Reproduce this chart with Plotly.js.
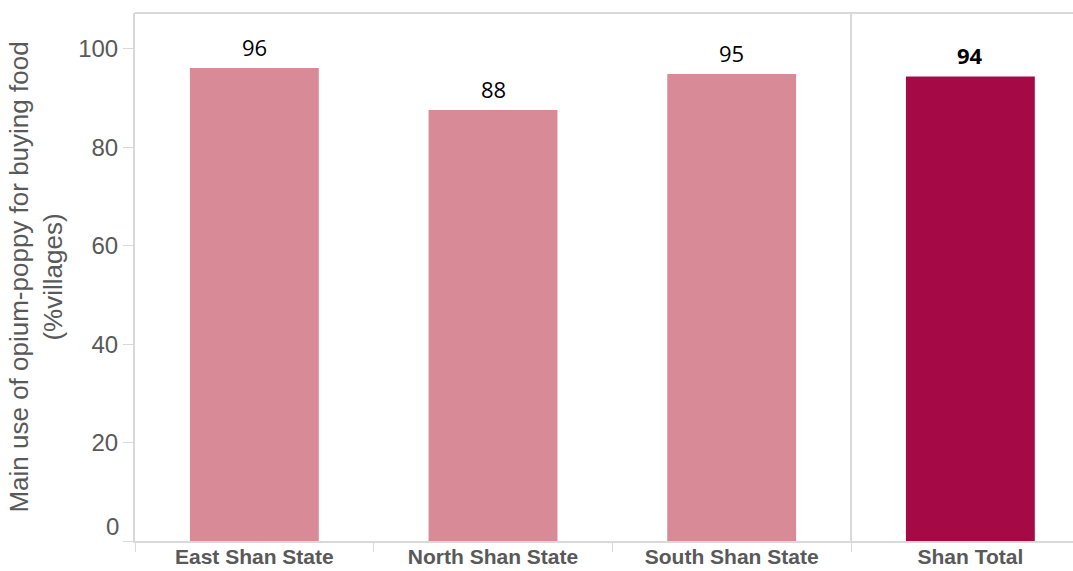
<!DOCTYPE html>
<html>
<head>
<meta charset="utf-8">
<script src="https://cdn.plot.ly/plotly-3.0.1.min.js"></script>
<style>html,body{margin:0;padding:0;background:#fff;}#chart{width:1073px;height:571px;}</style>
</head>
<body>
<div id="chart"></div>
<script>
const categories = ["East Shan State", "North Shan State", "South Shan State", "Shan Total"];
const values = [96.1, 87.6, 94.9, 94.4];
const valueLabels = ["96", "88", "95", "<b>94</b>"];
const barColors = ["#D88A96", "#D88A96", "#D88A96", "#A50A47"];
const yTickValues = [0, 20, 40, 60, 80, 100];
const yTickLabels = ["", "20", "40", "60", "80", "100"];
const zeroLabel = "0";
const yTitle = "Main use of opium-poppy for buying food<br>(%villages)";

const trace = {
  type: "bar",
  x: categories,
  y: values,
  width: 0.54,
  marker: {color: barColors},
  cliponaxis: false,
  hoverinfo: "none"
};

const labelAnnotations = categories.map((c, i) => ({
  text: valueLabels[i], xref: "x", yref: "y", x: c, y: values[i],
  xanchor: "center", yanchor: "bottom", yshift: 4, showarrow: false,
  font: {family: "Open Sans, sans-serif", size: 22, color: "#000"}
}));

const layout = {
  width: 1073, height: 571,
  margin: {l: 135, r: 0, t: 13, b: 30, pad: 0},
  paper_bgcolor: "#fff", plot_bgcolor: "#fff",
  showlegend: false,
  font: {family: "Liberation Sans, Arial, sans-serif", color: "#595959"},
  xaxis: {
    type: "category",
    range: [-0.5, 3.43],
    showgrid: false, zeroline: false,
    showline: true, linecolor: "#d9d9d9", linewidth: 2,
    ticks: "outside", tickson: "boundaries", ticklen: 9, tickcolor: "#d9d9d9", tickwidth: 1,
    ticklabelstandoff: -4,
    tickfont: {family: "Liberation Sans, Arial, sans-serif", size: 21, color: "#595959", weight: "bold"},
    fixedrange: true
  },
  yaxis: {
    range: [0, 107.3],
    tickvals: yTickValues, ticktext: yTickLabels,
    showgrid: false, zeroline: false,
    showline: true, linecolor: "#d9d9d9", linewidth: 2,
    ticks: "outside", ticklen: 10, tickcolor: "#d9d9d9", tickwidth: 1,
    tickfont: {family: "Liberation Sans, Arial, sans-serif", size: 24, color: "#595959"},
    title: {text: yTitle, font: {family: "Liberation Sans, Arial, sans-serif", size: 26, color: "#595959"}, standoff: 8},
    automargin: false,
    fixedrange: true
  },
  shapes: [
    {type: "line", xref: "paper", yref: "paper", x0: 0, x1: 1, y0: 1, y1: 1, line: {color: "#d9d9d9", width: 2}},
    {type: "line", xref: "x", yref: "paper", x0: 2.5, x1: 2.5, y0: 0, y1: 1, line: {color: "#d9d9d9", width: 2}}
  ],
  annotations: [
    {text: zeroLabel, xref: "paper", yref: "y", x: 0, y: 0, xanchor: "right", yanchor: "middle",
     xshift: -14, yshift: 15, showarrow: false,
     font: {family: "Liberation Sans, Arial, sans-serif", size: 24, color: "#595959"}}
  ].concat(labelAnnotations)
};

Plotly.newPlot("chart", [trace], layout, {displayModeBar: false, staticPlot: true});
</script>
</body>
</html>
